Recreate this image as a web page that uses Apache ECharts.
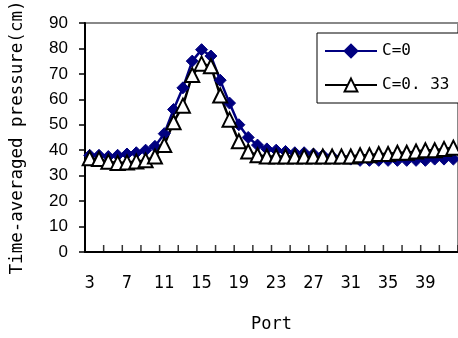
<!DOCTYPE html>
<html>
<head>
<meta charset="utf-8">
<script src="https://cdn.jsdelivr.net/npm/echarts@6/dist/echarts.min.js"></script>
<style>
  html, body { margin: 0; padding: 0; background: #fff; }
  #chart { width: 458px; height: 338px; }
</style>
</head>
<body>
<div id="chart"></div>
<script>
// 端口编号 3..42
const ports = []
for (let p = 3; p <= 42; p++) ports.push(p)

// 横轴标签 / 刻度位置
const xLabels = [3, 7, 11, 15, 19, 23, 27, 31, 35, 39, 43]
const xTicks = []
for (let t = 2.5; t <= 42.5; t += 2) xTicks.push(t)

// C=0
const c0 = [
  38, 38, 37.5, 38, 38.5, 39, 40, 41.5, 46.5, 56,
  64.5, 75, 79.5, 77, 67.5, 58.5, 50, 45, 42, 40.5,
  40, 39.5, 39, 39, 38.5, 38, 37.5, 37, 36.5, 36,
  36, 36, 36, 36, 36, 36, 36, 36.5, 36.5, 36.5
]
// C=0.33
const c033 = [
  36.8, 36.5, 35.5, 35, 35.2, 35.6, 36, 37.5, 42, 51,
  57.5, 69.5, 74, 73, 61.5, 52, 43.5, 39.5, 38, 37.5,
  37.5, 37.5, 37.5, 37.5, 37.5, 37.5, 37.5, 37.5, 37.5, 38,
  38, 38.5, 38.5, 39, 39, 39.5, 40, 40, 40.5, 41
]

const monoFont = '"DejaVu Sans Mono", "Liberation Mono", monospace'
const narrowFont = '"Liberation Sans Narrow", "DejaVu Sans Condensed", "Liberation Sans", sans-serif'

const chart = echarts.init(document.getElementById('chart'))
const option = {
  animation: false,
  backgroundColor: '#fff',
  grid: {
    left: 79,
    top: 15,
    width: 384,
    height: 242,
    show: true,
    borderColor: '#888',
    borderWidth: 2
  },
  legend: {
    orient: 'vertical',
    left: 317,
    top: 33,
    padding: [10, 14, 10, 7],
    itemWidth: 52,
    itemHeight: 16,
    itemGap: 18,
    borderColor: '#000',
    borderWidth: 1,
    backgroundColor: '#fff',
    textStyle: { fontFamily: monoFont, fontSize: 16, color: '#000' },
    data: ['C=0', 'C=0. 33']
  },
  xAxis: {
    type: 'value',
    min: 2.5,
    max: 42.5,
    name: 'Port',
    nameLocation: 'middle',
    nameGap: 64,
    nameTextStyle: { fontFamily: monoFont, fontSize: 17, color: '#000' },
    axisLine: { show: true, onZero: false, lineStyle: { color: '#000', width: 2 } },
    axisTick: { show: false },
    axisLabel: {
      customValues: xLabels,
      margin: 22,
      fontFamily: narrowFont,
      fontSize: 18,
      color: '#000'
    },
    splitLine: { show: false }
  },
  yAxis: {
    type: 'value',
    min: 0,
    max: 90,
    interval: 10,
    name: 'Time-averaged pressure(cm)',
    nameLocation: 'middle',
    nameRotate: 90,
    nameGap: 59,
    nameTextStyle: { fontFamily: monoFont, fontSize: 17.5, color: '#000' },
    axisLine: { show: true, onZero: false, lineStyle: { color: '#000', width: 2 } },
    axisTick: { show: true, inside: false, length: 6, lineStyle: { color: '#000', width: 1.5 } },
    axisLabel: { margin: 17, fontFamily: '"Liberation Sans", Arial, sans-serif', fontSize: 17, color: '#000' },
    splitLine: { show: false }
  },
  series: [
    {
      // 横轴刻度线（每两个端口一条，朝内）
      name: 'ticks',
      type: 'scatter',
      data: xTicks.map((t) => [t, 0]),
      symbol: 'rect',
      symbolSize: [1.5, 7],
      symbolOffset: [0, -3.5],
      itemStyle: { color: '#000' },
      silent: true,
      clip: false,
      z: 5
    },
    {
      name: 'C=0',
      type: 'line',
      data: ports.map((p, i) => [p, c0[i]]),
      symbol: 'diamond',
      symbolSize: 12,
      showAllSymbol: true,
      lineStyle: { color: '#000080', width: 2.5 },
      itemStyle: { color: '#000080', borderColor: '#000080', borderWidth: 1 }
    },
    {
      name: 'C=0. 33',
      type: 'line',
      data: ports.map((p, i) => [p, c033[i]]),
      symbol: 'triangle',
      symbolSize: 14,
      showAllSymbol: true,
      lineStyle: { color: '#000', width: 2.5 },
      itemStyle: { color: '#fff', borderColor: '#000', borderWidth: 2 }
    }
  ]
}
chart.setOption(option)
</script>
</body>
</html>
